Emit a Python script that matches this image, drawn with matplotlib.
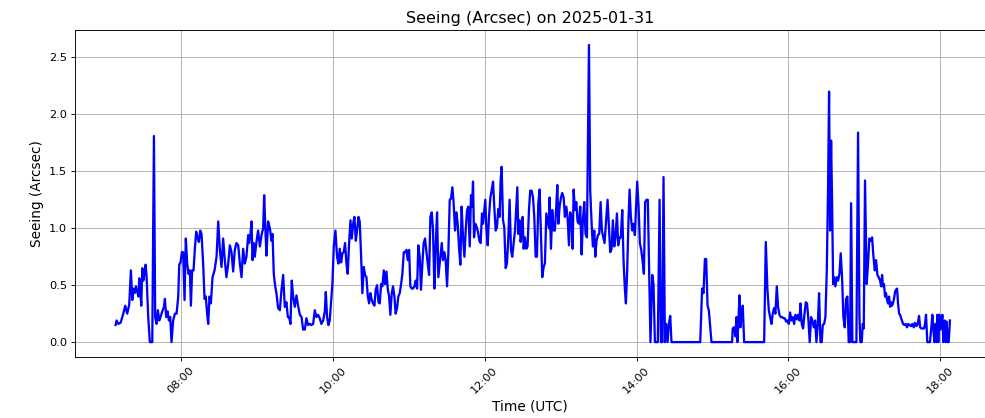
import matplotlib
matplotlib.use("Agg")
import matplotlib.pyplot as plt
import matplotlib.dates as mdates
import pandas as pd
import numpy as np

DATE = "2025-01-31"

# times as minutes after midnight UTC, values in arcsec
t_0708 = [428.4, 429.2, 430.5, 432.4, 434.5, 436.05, 437.6, 439.2, 440.5, 441.6, 442.4, 443.4, 444.5, 445.5,
          446.6, 447.1, 447.9, 448.7, 449.5, 450.3, 451.05, 452.1, 452.9, 454.2, 455.5, 457.4, 458.7, 459.7,
          460.8, 461.8, 462.9, 463.9, 465.3, 466.6, 467.4, 468.4, 469.5, 470.5, 471.6, 472.6, 473.9, 475.3,
          476.6, 477.9, 478.7, 479.7, 480.8, 481.8, 482.9, 483.9, 485.0, 486.05, 487.1, 487.9, 488.9, 490.0,
          491.05, 492.1, 493.1, 494.2, 495.3, 496.3, 497.6, 498.7, 499.7, 500.8, 501.6, 502.6, 503.7, 505.0,
          506.6, 508.2, 509.5]
v_0708 = [0.15, 0.19, 0.16, 0.17, 0.25, 0.32, 0.25, 0.33, 0.63, 0.37, 0.47, 0.43, 0.49, 0.44,
          0.40, 0.56, 0.47, 0.32, 0.65, 0.54, 0.59, 0.68, 0.58, 0.22, 0.0, 0.0, 1.81, 0.22,
          0.16, 0.28, 0.19, 0.22, 0.27, 0.31, 0.38, 0.22, 0.27, 0.19, 0.22, 0.0, 0.19, 0.25,
          0.25, 0.40, 0.68, 0.70, 0.79, 0.79, 0.37, 0.91, 0.69, 0.60, 0.63, 0.32, 0.63, 0.63,
          0.82, 0.97, 0.92, 0.88, 0.98, 0.95, 0.69, 0.38, 0.40, 0.24, 0.16, 0.40, 0.34, 0.57,
          0.63, 0.75, 1.06]

t_0830 = [510.8, 512.1, 513.4, 514.7, 516.0, 517.4, 518.7, 520.0, 521.3, 522.6, 523.9, 525.3, 526.6, 527.9,
          529.2, 530.5, 531.8, 533.2, 533.9, 535.0, 535.8, 536.6, 537.6, 538.4, 539.7, 541.0, 542.4, 543.7,
          545.0, 545.8, 546.8, 547.6, 548.9, 550.3, 551.6, 552.4, 553.4, 554.5, 555.5, 556.8, 558.2, 559.5,
          560.8, 562.1, 563.4, 564.5, 565.5, 566.6, 567.6, 568.7, 570.0, 571.3, 572.6, 574.0, 575.3, 576.6,
          577.9, 579.2, 580.5, 581.8, 583.2, 584.5, 585.8, 587.1, 588.4, 589.7, 591.0, 592.4, 593.7, 594.5,
          595.5, 596.6]
v_0830 = [0.81, 0.66, 0.91, 0.72, 0.57, 0.69, 0.85, 0.79, 0.62, 0.81, 0.87, 0.85, 0.69, 0.57,
          0.82, 0.69, 0.75, 0.94, 0.87, 0.95, 1.06, 0.72, 0.87, 0.75, 0.88, 0.98, 0.84, 0.94,
          1.00, 1.29, 0.98, 0.76, 1.06, 1.00, 0.89, 0.95, 0.60, 0.49, 0.43, 0.30, 0.28, 0.46,
          0.59, 0.31, 0.35, 0.22, 0.22, 0.16, 0.54, 0.40, 0.31, 0.41, 0.32, 0.24, 0.22, 0.11,
          0.11, 0.21, 0.15, 0.16, 0.15, 0.16, 0.28, 0.22, 0.24, 0.21, 0.16, 0.19, 0.27, 0.44,
          0.22, 0.15]

t_0957 = [597.6, 598.4, 599.7, 600.8, 602.1, 603.4, 604.5, 605.5, 606.6, 607.6, 608.7, 609.7, 610.8, 611.8,
          612.9, 614.0, 615.0, 616.1, 617.1, 618.2, 619.2, 620.3, 621.3, 622.4, 623.4, 624.5, 625.5, 626.6,
          627.6, 628.7, 629.7, 630.8, 631.8, 632.9, 633.9, 635.0, 636.1, 637.1, 638.2, 639.2, 640.3, 641.3,
          642.4, 643.4, 644.5, 645.5, 646.6, 647.6, 648.7, 649.7, 650.8, 651.8, 652.9, 654.0, 655.0, 656.1,
          657.1, 658.2, 659.2, 660.3, 661.3, 662.4, 663.4, 664.5, 665.5, 666.6, 667.6, 668.7, 669.7, 670.8,
          671.8, 672.9, 674.0, 675.0, 676.1, 677.1, 678.2, 679.2, 680.3, 681.3, 682.4, 683.4]
v_0957 = [0.19, 0.31, 0.51, 0.84, 0.98, 0.75, 0.69, 0.82, 0.70, 0.78, 0.79, 0.87, 0.69, 0.60,
          0.87, 1.07, 0.91, 1.04, 1.10, 0.89, 0.98, 1.10, 1.06, 0.75, 0.43, 0.66, 0.59, 0.57,
          0.41, 0.34, 0.43, 0.37, 0.34, 0.32, 0.46, 0.50, 0.35, 0.34, 0.51, 0.49, 0.63, 0.51,
          0.62, 0.47, 0.40, 0.24, 0.43, 0.49, 0.40, 0.25, 0.30, 0.40, 0.43, 0.51, 0.60, 0.79,
          0.79, 0.81, 0.72, 0.81, 0.49, 0.47, 0.47, 0.49, 0.54, 0.47, 0.85, 0.75, 0.46, 0.69,
          0.87, 0.91, 0.79, 0.69, 0.59, 1.10, 1.14, 0.98, 0.47, 0.84, 1.14, 0.57]

t_1125 = [685.0, 686.1, 687.1, 688.2, 689.2, 690.3, 691.3, 692.4, 693.4, 694.5, 695.5, 696.6, 697.6, 698.7,
          699.7, 700.8, 701.8, 702.9, 704.0, 705.0, 706.1, 707.1, 708.2, 709.2, 710.0, 710.8, 711.6, 712.6,
          713.7, 714.7, 715.8, 716.8, 717.9, 718.7, 719.7, 720.5, 721.3, 722.4, 723.4, 724.5, 725.5, 726.6,
          727.6, 728.7, 729.7, 730.8, 731.8, 732.6, 733.4, 734.5, 735.5, 736.6, 737.6, 738.7, 739.7, 740.8,
          741.8, 742.9, 744.0, 745.0, 745.8, 746.6, 747.6, 748.4, 749.2, 750.0, 750.8, 751.8, 752.9, 753.9,
          755.0, 756.0, 757.1, 758.2, 759.2, 760.3, 761.3, 762.4, 763.4, 764.5, 765.5, 766.6, 767.6, 768.7,
          769.7, 770.8]
v_1125 = [0.75, 0.87, 0.72, 0.79, 0.72, 0.49, 0.78, 1.25, 1.26, 1.36, 1.22, 0.98, 1.14, 1.04,
          0.84, 0.68, 1.19, 0.92, 0.75, 0.98, 1.16, 1.19, 0.84, 1.29, 1.19, 1.41, 0.92, 1.04,
          1.01, 0.97, 0.89, 0.87, 1.13, 1.04, 1.16, 1.25, 1.01, 0.85, 1.10, 1.27, 1.33, 1.41,
          1.19, 0.98, 1.01, 1.17, 1.10, 1.42, 1.54, 1.07, 1.01, 0.65, 0.69, 0.92, 1.25, 0.81,
          0.75, 0.87, 0.98, 1.19, 1.36, 0.95, 1.07, 0.88, 0.95, 1.10, 0.82, 0.92, 0.82, 0.84,
          1.16, 1.33, 1.33, 1.27, 1.10, 0.75, 0.75, 1.22, 1.34, 0.92, 0.57, 0.66, 0.69, 1.13,
          1.07, 1.00]

t_1251 = [771.3, 772.4, 773.4, 774.5, 775.5, 776.6, 777.4, 778.2, 779.2, 780.3, 781.3, 782.4, 783.4, 784.5,
          785.5, 786.6, 787.6, 788.7, 789.5, 790.3, 791.3, 792.4, 793.4, 794.5, 795.5, 796.6, 797.6, 798.7,
          799.7, 800.8, 802.4, 803.4, 804.5, 805.5, 806.6, 807.4, 808.4, 809.5, 810.5, 811.6, 812.6, 813.7,
          814.7, 815.8, 817.1, 818.2, 819.2, 820.3, 821.3, 822.4, 823.4, 824.5, 825.5, 826.6, 827.6, 828.7,
          829.7, 830.8, 831.6, 832.6, 833.7, 834.5, 835.5, 836.6, 837.6, 838.7, 839.5, 840.5, 841.6, 842.6,
          843.7, 844.7, 845.8, 846.8, 847.9, 848.9]
v_1251 = [1.27, 0.82, 1.16, 0.98, 0.98, 1.20, 1.38, 1.04, 1.19, 1.27, 1.31, 1.27, 1.10, 1.19,
          1.10, 0.85, 1.14, 1.07, 0.82, 1.34, 1.16, 1.23, 1.06, 1.04, 1.19, 0.77, 1.07, 1.23,
          0.95, 0.92, 2.61, 1.33, 1.04, 0.84, 0.98, 0.75, 0.89, 0.94, 0.95, 1.23, 0.98, 0.92,
          0.87, 1.04, 1.25, 1.01, 0.79, 0.82, 1.07, 0.84, 0.92, 1.13, 0.85, 0.92, 0.92, 1.16,
          0.72, 0.46, 0.34, 0.63, 1.10, 1.34, 1.10, 0.98, 1.04, 0.94, 1.16, 1.41, 1.19, 0.87,
          0.81, 0.72, 0.60, 1.23, 1.25, 1.25]

t_1411 = [851.0, 852.4, 853.4, 854.5, 855.5, 856.8, 858.2, 859.2, 860.3, 861.3, 862.4, 863.4, 864.5, 865.5,
          866.6, 867.6, 890.3, 891.8, 892.9, 894.0, 895.0, 896.1, 897.1, 899.2, 915.5, 916.0, 917.1, 918.2,
          918.9, 919.7, 920.5, 921.3, 922.1, 922.9, 923.9, 925.0, 940.8]
v_1411 = [0.0, 0.59, 0.51, 0.0, 0.0, 0.0, 1.25, 0.0, 0.0, 1.45, 0.0, 0.16, 0.0, 0.16,
          0.23, 0.0, 0.0, 0.47, 0.43, 0.73, 0.73, 0.32, 0.28, 0.0, 0.0, 0.12, 0.13, 0.05,
          0.22, 0.0, 0.19, 0.41, 0.13, 0.22, 0.32, 0.0, 0.0]

t_1542 = [942.1, 943.4, 944.5, 945.5, 946.6, 947.6, 948.7, 949.7, 950.8, 951.8, 952.9, 953.9, 955.0, 956.1,
          957.1, 958.2, 959.2, 960.3, 961.3, 962.4, 963.4, 964.5, 965.5, 966.6, 967.6, 968.7, 969.5, 970.5,
          971.6, 972.6, 973.7, 974.7, 975.8, 976.8, 977.9, 978.9, 980.0, 981.1, 982.1, 983.2, 984.2, 985.3,
          986.3, 987.1, 988.2, 989.2, 990.3, 991.3, 992.1, 992.9, 993.7, 994.5, 995.3, 996.1, 997.1, 998.2,
          999.2, 1000.3, 1001.3, 1002.4, 1003.4, 1004.5, 1005.5, 1006.6, 1007.6, 1008.7, 1009.5, 1010.5,
          1013.7, 1015.0, 1016.1, 1016.8, 1017.9, 1018.7, 1019.5, 1020.5, 1021.8, 1022.9, 1023.9, 1025.0,
          1026.1, 1027.1, 1028.2, 1029.2, 1030.3, 1031.3]
v_1542 = [0.88, 0.46, 0.28, 0.22, 0.16, 0.25, 0.30, 0.25, 0.49, 0.31, 0.24, 0.22, 0.22, 0.21,
          0.21, 0.18, 0.19, 0.16, 0.26, 0.19, 0.22, 0.16, 0.24, 0.20, 0.24, 0.19, 0.34, 0.16,
          0.12, 0.24, 0.35, 0.34, 0.19, 0.0, 0.22, 0.19, 0.13, 0.19, 0.0, 0.16, 0.43, 0.0,
          0.0, 0.15, 0.16, 0.22, 0.63, 1.36, 2.20, 0.98, 1.77, 1.22, 0.51, 0.57, 0.49, 0.57,
          0.54, 0.60, 0.78, 0.56, 0.22, 0.13, 0.38, 0.40, 0.0, 0.0, 1.22, 0.0,
          0.0, 1.84, 0.22, 0.0, 0.0, 0.16, 0.12, 1.42, 0.51, 0.69, 0.91, 0.89,
          0.92, 0.76, 0.63, 0.72, 0.59, 0.57]

t_1712 = [1032.4, 1033.2, 1034.0, 1034.7, 1035.5, 1036.3, 1037.1, 1037.9, 1038.7, 1039.5, 1040.3, 1041.1,
          1041.8, 1042.6, 1043.4, 1044.2, 1045.0, 1045.8, 1046.6, 1047.4, 1048.2, 1049.0, 1049.7, 1050.5,
          1051.6, 1052.6, 1053.7, 1054.7, 1055.8, 1056.8, 1057.9, 1059.0, 1060.0, 1061.1, 1062.1, 1063.2,
          1064.0, 1065.0, 1066.1, 1067.1, 1067.9, 1068.7, 1069.7, 1071.8, 1072.9, 1073.7, 1074.5, 1075.3,
          1076.1, 1076.8, 1077.6, 1078.4, 1079.2, 1080.0, 1080.8, 1081.6, 1082.4, 1083.4, 1084.2, 1085.0,
          1085.8, 1086.6, 1087.6]
v_1712 = [0.54, 0.49, 0.59, 0.49, 0.51, 0.40, 0.43, 0.37, 0.34, 0.40, 0.31, 0.35,
          0.32, 0.34, 0.38, 0.44, 0.46, 0.47, 0.34, 0.25, 0.24, 0.21, 0.19, 0.16,
          0.15, 0.16, 0.13, 0.16, 0.15, 0.14, 0.16, 0.13, 0.17, 0.14, 0.16, 0.23,
          0.13, 0.12, 0.12, 0.12, 0.16, 0.24, 0.0, 0.0, 0.13, 0.24, 0.11, 0.0,
          0.16, 0.0, 0.24, 0.0, 0.24, 0.11, 0.16, 0.24, 0.0, 0.19, 0.0, 0.18,
          0.0, 0.0, 0.19]

# visible time window (minutes after midnight UTC)
x_window = [396.3, 1115.3]

minutes = t_0708 + t_0830 + t_0957 + t_1125 + t_1251 + t_1411 + t_1542 + t_1712
seeing = v_0708 + v_0830 + v_0957 + v_1125 + v_1251 + v_1411 + v_1542 + v_1712

day = pd.Timestamp(DATE)
times = day + pd.to_timedelta(minutes, unit="min")
xlim = day + pd.to_timedelta(x_window, unit="min")

fig, ax = plt.subplots(figsize=(986 / 82, 418 / 82), dpi=82)
fig.subplots_adjust(left=0.076, right=0.999, top=0.928, bottom=0.146)

ax.plot(times, seeing, color="#0000ff", linewidth=2)

ax.set_title(f"Seeing (Arcsec) on {DATE}", fontsize=14)
ax.set_xlabel("Time (UTC)", fontsize=12)
ax.set_ylabel("Seeing (Arcsec)", fontsize=12)

ax.set_xlim(xlim[0], xlim[1])
ax.xaxis.set_major_locator(mdates.HourLocator(byhour=range(0, 24, 2)))
ax.xaxis.set_major_formatter(mdates.DateFormatter("%H:%M"))
plt.setp(ax.get_xticklabels(), rotation=45)

ax.grid(True, color="#b0b0b0", linewidth=0.8)

fig.savefig("out.png", dpi=82)
